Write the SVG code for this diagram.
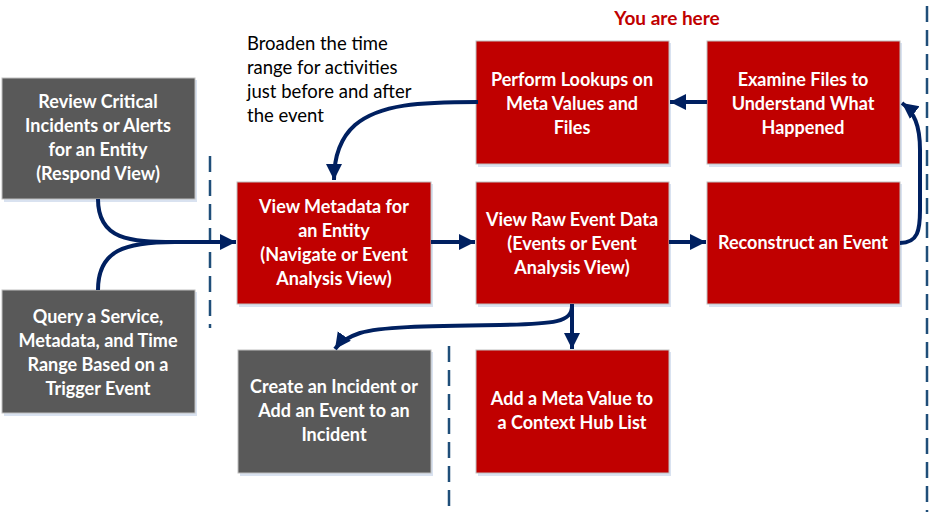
<svg xmlns="http://www.w3.org/2000/svg" width="930" height="518" viewBox="0 0 930 518">
<defs>
<style>
.box{stroke:#BFBFBF;stroke-width:1}
.red{fill:#C00000}
.gray{fill:#595959}
.sh{fill:#D9E2F0}
.t{font-family:Lato,"Liberation Sans",sans-serif;font-weight:bold;font-size:18px;fill:#FFFFFF;text-anchor:middle}
.note{font-family:Lato,"Liberation Sans",sans-serif;font-size:18.5px;fill:#000000}
.here{font-family:Lato,"Liberation Sans",sans-serif;font-weight:bold;font-size:19px;fill:#C00000;text-anchor:middle}
.c{fill:none;stroke:#002060;stroke-width:4}
.dash{stroke:#1F4E79;stroke-width:2.5;stroke-dasharray:16 8;fill:none}
</style>
<marker id="ah" markerUnits="userSpaceOnUse" markerWidth="18" markerHeight="18" viewBox="0 0 18 18" refX="16" refY="9" orient="auto">
<path d="M0,1 L16,9 L0,17 Z" fill="#002060"/>
</marker>
</defs>
<rect width="930" height="518" fill="#FFFFFF"/>

<g id="dividers">
<line class="dash" x1="210" y1="156" x2="210" y2="328"/>
<line class="dash" x1="449" y1="346" x2="449" y2="514"/>
<line class="dash" x1="927" y1="6" x2="927" y2="512"/>
</g>

<text class="here" x="667" y="25">You are here</text>

<g id="note">
<text class="note" x="247" y="50">Broaden the time</text>
<text class="note" x="247" y="74">range for activities</text>
<text class="note" x="247" y="98">just before and after</text>
<text class="note" x="247" y="122">the event</text>
</g>

<g id="review">
<rect class="sh" x="4" y="80" width="193" height="122"/>
<rect class="box gray" x="2" y="78" width="193" height="121"/>
<text class="t" x="98" y="108">Review Critical</text>
<text class="t" x="98" y="132">Incidents or Alerts</text>
<text class="t" x="98" y="156">for an Entity</text>
<text class="t" x="98" y="180">(Respond View)</text>
</g>

<g id="query">
<rect class="sh" x="4" y="292" width="193" height="124"/>
<rect class="box gray" x="2" y="290" width="193" height="123"/>
<text class="t" x="98" y="323">Query a Service,</text>
<text class="t" x="98" y="347">Metadata, and Time</text>
<text class="t" x="98" y="371">Range Based on a</text>
<text class="t" x="98" y="395">Trigger Event</text>
</g>

<g id="metadata">
<rect class="sh" x="239" y="184" width="194" height="123"/>
<rect class="box red" x="237" y="182" width="194" height="122"/>
<text class="t" x="334" y="213">View Metadata for</text>
<text class="t" x="334" y="237">an Entity</text>
<text class="t" x="334" y="261">(Navigate or Event</text>
<text class="t" x="334" y="285">Analysis View)</text>
</g>

<g id="raw">
<rect class="sh" x="478" y="184" width="193" height="123"/>
<rect class="box red" x="476" y="182" width="193" height="122"/>
<text class="t" x="572" y="226">View Raw Event Data</text>
<text class="t" x="572" y="250">(Events or Event</text>
<text class="t" x="572" y="274">Analysis View)</text>
</g>

<g id="reconstruct">
<rect class="sh" x="709" y="184" width="193" height="123"/>
<rect class="box red" x="707" y="182" width="193" height="122"/>
<text class="t" x="803" y="249">Reconstruct an Event</text>
</g>

<g id="lookups">
<rect class="sh" x="478" y="43" width="193" height="124"/>
<rect class="box red" x="476" y="41" width="193" height="123"/>
<text class="t" x="572" y="86">Perform Lookups on</text>
<text class="t" x="572" y="110">Meta Values and</text>
<text class="t" x="572" y="134">Files</text>
</g>

<g id="examine">
<rect class="sh" x="709" y="43" width="193" height="124"/>
<rect class="box red" x="707" y="41" width="193" height="123"/>
<text class="t" x="803" y="86">Examine Files to</text>
<text class="t" x="803" y="110">Understand What</text>
<text class="t" x="803" y="134">Happened</text>
</g>

<g id="create">
<rect class="sh" x="240" y="352" width="193" height="124"/>
<rect class="box gray" x="238" y="350" width="193" height="123"/>
<text class="t" x="334" y="393">Create an Incident or</text>
<text class="t" x="334" y="417">Add an Event to an</text>
<text class="t" x="334" y="441">Incident</text>
</g>

<g id="addmeta">
<rect class="sh" x="478" y="352" width="193" height="124"/>
<rect class="box red" x="476" y="350" width="193" height="123"/>
<text class="t" x="572" y="405">Add a Meta Value to</text>
<text class="t" x="572" y="429">a Context Hub List</text>
</g>

<g id="connectors">
<path class="c" d="M98,199 C98,240 130,242 175,242 L236,242" marker-end="url(#ah)"/>
<path class="c" d="M98,290 C98,250 125,242 175,242"/>
<path class="c" d="M478,102 C420,102 380,104 355,125 C338,140 334,160 334,180" marker-end="url(#ah)"/>
<path class="c" d="M431,242 L475,242" marker-end="url(#ah)"/>
<path class="c" d="M669,242 L706,242" marker-end="url(#ah)"/>
<path class="c" d="M707,102 L670,102" marker-end="url(#ah)"/>
<path class="c" d="M900,243 C918,243 920,230 920,210 L920,150 C920,125 914,112 902,103" marker-end="url(#ah)"/>
<path class="c" d="M572,304 L572,349" marker-end="url(#ah)"/>
<path class="c" d="M572,306 C572,322 555,324 500,325 C420,326 380,327 360,333 C348,337 340,342 335,349" marker-end="url(#ah)"/>
</g>
</svg>
